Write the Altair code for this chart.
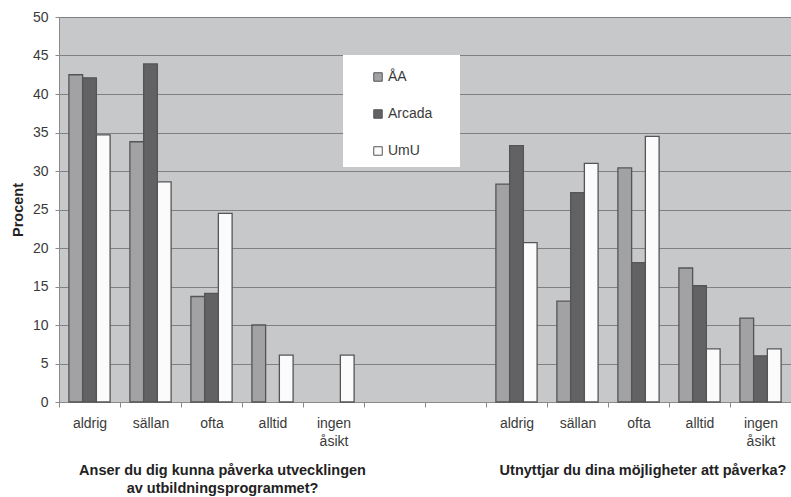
import altair as alt
import pandas as pd

# Answer categories and the two survey questions
categories = ["aldrig", "sällan", "ofta", "alltid", "ingen åsikt"]
series = ["ÅA", "Arcada", "UmU"]

q1_title = "Anser du dig kunna påverka utvecklingen\nav utbildningsprogrammet?"
q2_title = "Utnyttjar du dina möjligheter att påverka?"

# Percentages per institution, question 1
q1_aa = [42.5, 33.8, 13.7, 10.0, 0.0]
q1_arcada = [42.1, 43.9, 14.1, 0.0, 0.0]
q1_umu = [34.7, 28.6, 24.5, 6.1, 6.1]

# Percentages per institution, question 2
q2_aa = [28.3, 13.1, 30.4, 17.4, 10.9]
q2_arcada = [33.3, 27.2, 18.1, 15.1, 6.0]
q2_umu = [20.7, 31.0, 34.5, 6.9, 6.9]

fills = ["#a2a2a5", "#626265", "#fbfbfb"]

# Twelve slots on the x axis: five answers, two empty gaps, five answers
slots = (["q1|" + c for c in categories] + ["gap1", "gap2"]
         + ["q2|" + c for c in categories])

rows = []
for prefix, values in (("q1|", [q1_aa, q1_arcada, q1_umu]),
                       ("q2|", [q2_aa, q2_arcada, q2_umu])):
    for s, vals in zip(series, values):
        for c, v in zip(categories, vals):
            rows.append({"slot": prefix + c, "series": s, "value": v})
df = pd.DataFrame(rows)

FONT = "Liberation Sans"
TEXT = "#3a3a3a"
FS = 14
# Slot keys carry a question prefix; show only the answer, split onto lines
LABEL_EXPR = ("indexof('' + datum.value, '|') >= 0 ? "
              "split(split('' + datum.value, '|')[1], ' ') : ''")
# A tiny white spacer title widens the white legend box
LEGEND_SPACER = "M" * 59

x_enc = alt.X(
    "slot:N",
    sort=slots,
    scale=alt.Scale(domain=slots, paddingInner=0, paddingOuter=0),
    axis=alt.Axis(
        title=None,
        labelExpr=LABEL_EXPR,
        labelAngle=0,
        labelFontSize=FS,
        labelColor=TEXT,
        labelFont=FONT,
        labelPadding=9,
        labelLineHeight=18,
        tickBand="extent",
        tickSize=5,
        tickColor="#8a8a8a",
        domainColor="#8a8a8a",
    ),
)

bars = alt.Chart(df).transform_filter("datum.value > 0").mark_bar(
    stroke="#555557", strokeWidth=1.3
).encode(
    x=x_enc,
    xOffset=alt.XOffset(
        "series:N", sort=series,
        scale=alt.Scale(domain=series, paddingInner=0, paddingOuter=0.72),
    ),
    y=alt.Y(
        "value:Q",
        scale=alt.Scale(domain=[0, 50], nice=False),
        axis=alt.Axis(
            title="Procent",
            values=list(range(0, 51, 5)),
            titleFont=FONT,
            titleFontSize=14.5,
            titleFontWeight="bold",
            titleColor="#222222",
            titlePadding=7,
            labelFont=FONT,
            labelFontSize=FS,
            labelColor=TEXT,
            labelPadding=7,
            tickSize=4,
            tickColor="#8a8a8a",
            domainColor="#8a8a8a",
            grid=True,
            gridColor="#808080",
            gridWidth=1,
        ),
    ),
    color=alt.Color(
        "series:N",
        sort=series,
        scale=alt.Scale(domain=series, range=fills),
        legend=alt.Legend(
            title=LEGEND_SPACER,
            titleFontSize=2,
            titleColor="white",
            titlePadding=4,
            titleLineHeight=2,
            orient="none",
            legendX=284,
            legendY=38,
            fillColor="white",
            padding=9,
            symbolType="square",
            symbolSize=72,
            symbolStrokeWidth=1,
            symbolStrokeColor="#555557",
            symbolOffset=19,
            labelFont=FONT,
            labelFontSize=FS,
            labelColor=TEXT,
            labelOffset=3,
            rowPadding=23,
        ),
    ),
)

titles = pd.DataFrame({"slot": ["q1|ofta", "q2|ofta"], "text": [q1_title, q2_title]})

title1 = alt.Chart(titles.iloc[[0]]).mark_text(
    font=FONT, fontSize=14.5, fontWeight="bold", color="#222222",
    lineBreak="\n", lineHeight=18, baseline="alphabetic", dx=11,
).encode(x=alt.X("slot:N", sort=slots), y=alt.value(458), text="text:N")

title2 = alt.Chart(titles.iloc[[1]]).mark_text(
    font=FONT, fontSize=14.5, fontWeight="bold", color="#222222",
    baseline="alphabetic", dx=4.5,
).encode(x=alt.X("slot:N", sort=slots), y=alt.value(458), text="text:N")

chart = alt.layer(bars, title1, title2).properties(
    width=732,
    height=385,
    autosize=alt.AutoSizeParams(type="none"),
    padding={"left": 59, "top": 17, "right": 0, "bottom": 95},
    background="white",
).configure_view(fill="#c7c8ca", stroke=None)

chart.save("out.html", embed_options={"renderer": "svg", "actions": False})
